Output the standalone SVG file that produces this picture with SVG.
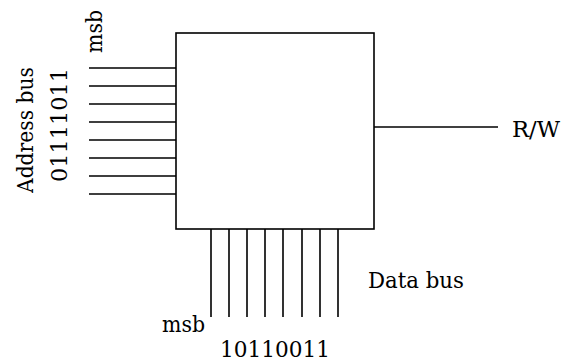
<svg xmlns="http://www.w3.org/2000/svg" width="563" height="362" viewBox="0 0 563 362">
<style>
.ln{stroke:#000;stroke-width:1.6;fill:none}
.t{font-family:"DejaVu Serif","Liberation Serif",serif;font-size:22px;fill:#000}
</style>
<rect width="563" height="362" fill="#fff"/>
<g id="chip">
<rect class="ln" x="176" y="33" width="198" height="196"/>
</g>
<g id="connectors">
<path class="ln" d="M89 68H176M89 86H176M89 104H176M89 122H176M89 140H176M89 158H176M89 176H176M89 194H176"/>
<path class="ln" d="M211 229V317M229 229V317M247 229V317M265 229V317M283 229V317M302 229V317M320 229V317M338 229V317"/>
<path class="ln" d="M374 127H498"/>
</g>
<g id="address-bus">
<text class="t" transform="translate(33,193) rotate(-90)" textLength="126" lengthAdjust="spacingAndGlyphs">Address bus</text>
<text class="t" transform="translate(67,182) rotate(-90)" textLength="114" lengthAdjust="spacingAndGlyphs">01111011</text>
<text class="t" transform="translate(102,53) rotate(-90)" textLength="43" lengthAdjust="spacingAndGlyphs">msb</text>
</g>
<g id="data-bus">
<text class="t" x="162" y="332" textLength="43" lengthAdjust="spacingAndGlyphs">msb</text>
<text class="t" x="220" y="357" textLength="110" lengthAdjust="spacingAndGlyphs">10110011</text>
<text class="t" x="368" y="288" textLength="96" lengthAdjust="spacingAndGlyphs">Data bus</text>
</g>
<g id="rw">
<text class="t" x="512" y="137" textLength="48" lengthAdjust="spacingAndGlyphs">R/W</text>
</g>
</svg>
